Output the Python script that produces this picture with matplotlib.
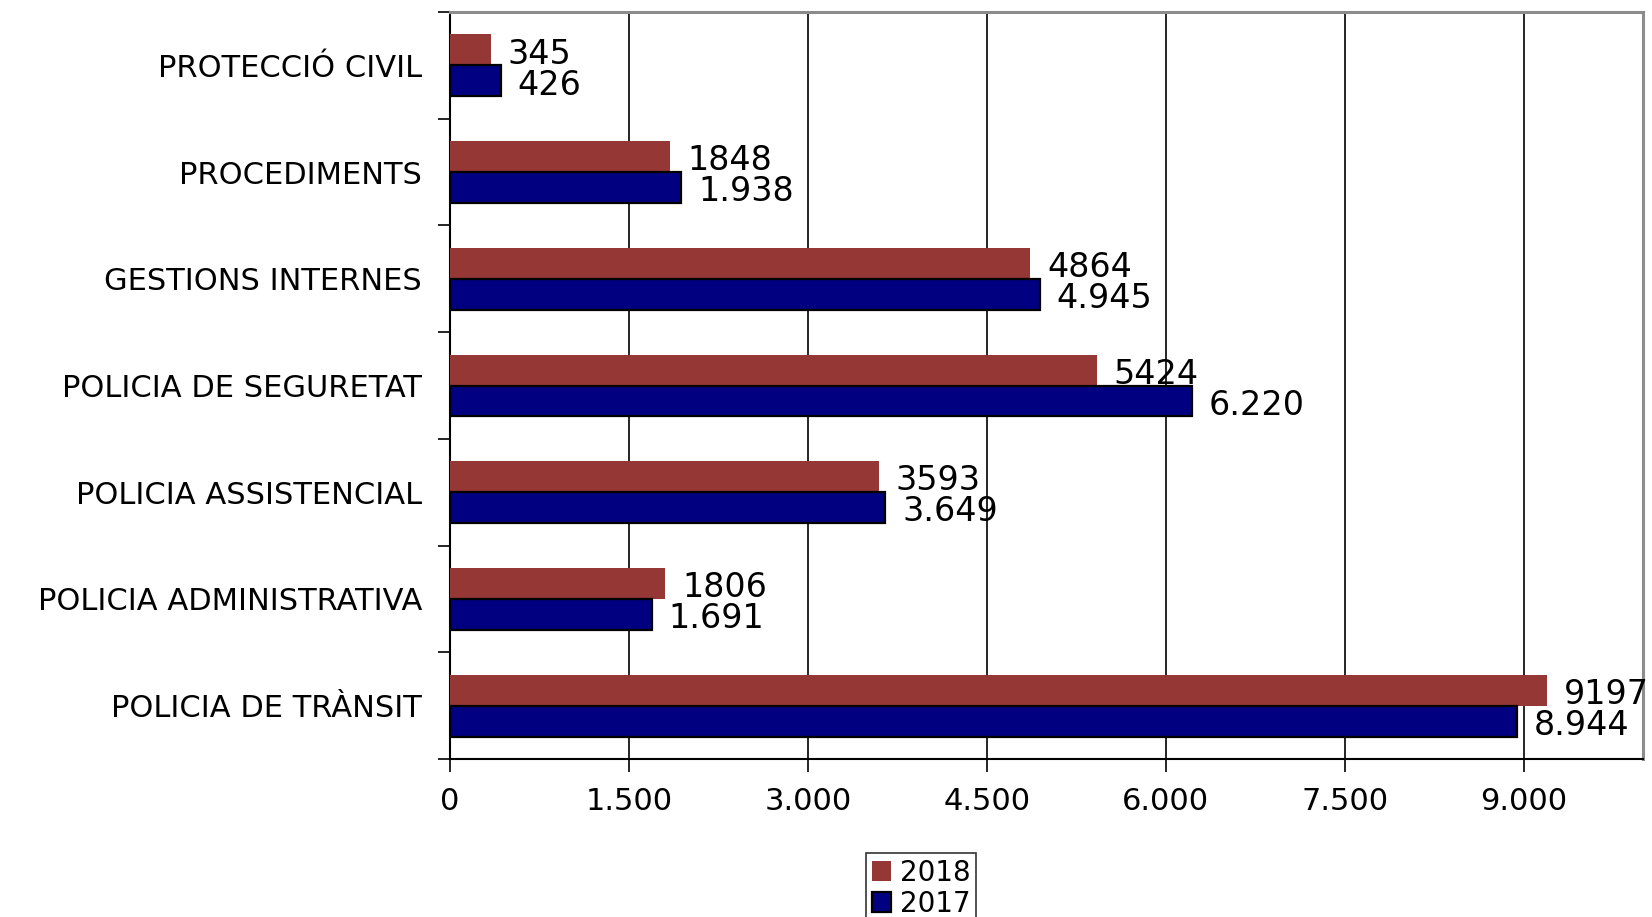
import numpy as np
import matplotlib
matplotlib.use("Agg")
import matplotlib.pyplot as plt
from matplotlib.ticker import FuncFormatter

# categories, bottom to top
categories = [
    "POLICIA DE TRÀNSIT",
    "POLICIA ADMINISTRATIVA",
    "POLICIA ASSISTENCIAL",
    "POLICIA DE SEGURETAT",
    "GESTIONS INTERNES",
    "PROCEDIMENTS",
    "PROTECCIÓ CIVIL",
]
values_2018 = [9197, 1806, 3593, 5424, 4864, 1848, 345]
values_2017 = [8944, 1691, 3649, 6220, 4945, 1938, 426]

red = "#953735"
navy = "#000080"


def dot_thousands(v):
    return f"{int(v):,}".replace(",", ".")


plt.rcParams["font.family"] = ["DejaVu Sans"]

fig = plt.figure(figsize=(16.52, 9.17), dpi=100)
ax = fig.add_axes([0.2724, 0.1723, 0.7222, 0.8146])

y = np.arange(len(categories))
h = 0.29
bars18 = ax.barh(y + h / 2, values_2018, height=h, color=red, linewidth=0,
                 label="2018", zorder=3)
bars17 = ax.barh(y - h / 2, values_2017, height=h, color=navy,
                 edgecolor="black", linewidth=1.6, label="2017", zorder=3)

# value labels (2018 without separator, 2017 with dot)
for b, v in zip(bars18, values_2018):
    ax.annotate(str(v), (b.get_width(), b.get_y() + b.get_height() / 2),
                xytext=(12, -3), textcoords="offset points",
                va="center", ha="left", fontsize=24, zorder=4)
for b, v in zip(bars17, values_2017):
    ax.annotate(dot_thousands(v), (b.get_width(), b.get_y() + b.get_height() / 2),
                xytext=(12, -3), textcoords="offset points",
                va="center", ha="left", fontsize=24, zorder=4)

ax.set_xlim(0, 10000)
ax.set_ylim(-0.5, len(categories) - 0.5)

ax.set_xticks(np.arange(0, 9001, 1500))
ax.xaxis.set_major_formatter(FuncFormatter(lambda v, p: dot_thousands(v)))
ax.tick_params(axis="x", direction="out", length=9, width=1.2, labelsize=22, pad=11)

ax.set_yticks(y)
ax.set_yticklabels(categories, fontsize=22)
ax.set_yticks(np.arange(-0.5, len(categories), 1), minor=True)
ax.tick_params(axis="y", which="major", length=0, pad=20)
ax.tick_params(axis="y", which="minor", direction="out", length=9, width=1.2)

ax.grid(axis="x", color="black", linewidth=1.2, zorder=0)
ax.set_axisbelow(True)

for side in ("top", "right"):
    ax.spines[side].set_color("#8c8c8c")
    ax.spines[side].set_linewidth(2.2)
for side in ("left", "bottom"):
    ax.spines[side].set_color("black")
    ax.spines[side].set_linewidth(1.5)

leg = fig.legend(handles=[bars18, bars17], labels=["2018", "2017"],
                 loc="upper center", bbox_to_anchor=(921 / 1652, 1 - 853 / 917),
                 fontsize=20, frameon=True, fancybox=False, edgecolor="black",
                 handlelength=0.7, handleheight=0.7, handletextpad=0.3,
                 borderpad=0.2, labelspacing=0.12, borderaxespad=0)
leg.get_frame().set_linewidth(1.2)

fig.savefig("out.png", dpi=100)
